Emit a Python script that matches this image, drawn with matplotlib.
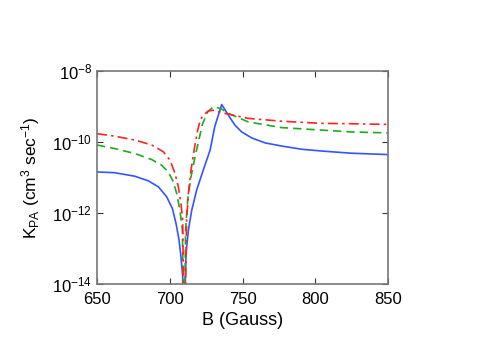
import numpy as np
import matplotlib
matplotlib.use("Agg")
import matplotlib.pyplot as plt

# values: B in Gauss, log10 of K_PA in cm^3/sec
b_blue = [650, 662, 676, 685.3, 692.2, 697.9, 701.8, 704.3, 706.4, 707.7, 708.9, 709.4,
          711.2, 712.8, 715.1, 718.5, 723, 727.7, 731, 733.4, 735.7, 740.3, 744.8, 749.4,
          756.3, 765.5, 777, 790.7, 804.5, 824, 850]
k_blue = [-10.84, -10.86, -10.96, -11.09, -11.26, -11.54, -11.87, -12.29, -12.76, -13.23, -13.79, -16.0,
          -13.14, -12.48, -11.92, -11.35, -10.79, -10.23, -9.55, -9.24, -8.94, -9.24, -9.52, -9.71,
          -9.88, -10.02, -10.11, -10.2, -10.25, -10.31, -10.35]

b_green = [650, 662, 676, 687.6, 694.4, 699, 702.5, 704.8, 707, 708.7, 709.8,
           710.9, 712.3, 714.6, 717.4, 720, 722.4, 726, 730, 735, 740.3, 754, 777, 804.5, 824, 850]
k_green = [-10.08, -10.18, -10.32, -10.49, -10.65, -10.84, -11.12, -11.45, -11.92, -12.48, -16.0,
           -12.48, -11.63, -10.98, -10.41, -9.94, -9.5, -9.15, -9.0, -9.05, -9.19, -9.43, -9.59, -9.66, -9.71, -9.74]

b_red = [650, 662, 676, 687.6, 695.6, 700.2, 703.6, 705.9, 707.7, 708.9, 710,
         711.6, 712.8, 714.6, 716.7, 719.2, 721, 723, 726.5, 729.8, 738, 754, 777, 804.5, 824, 850]
k_red = [-9.76, -9.83, -9.94, -10.08, -10.27, -10.51, -10.88, -11.26, -11.73, -12.2, -16.0,
         -12.2, -11.45, -10.79, -10.23, -9.66, -9.38, -9.24, -9.12, -9.1, -9.19, -9.33, -9.41, -9.47, -9.48, -9.5]

x_ticks = [650, 700, 750, 800, 850]
y_ticks = [1e-14, 1e-12, 1e-10, 1e-8]


def main():
    plt.rcParams['font.family'] = ['Liberation Sans', 'DejaVu Sans']
    plt.rcParams['mathtext.default'] = 'regular'

    fig = plt.figure(figsize=(4.85, 3.56), dpi=100)
    ax = fig.add_axes([0.2, 0.202, 0.6, 0.598])

    ax.plot(b_blue, 10 ** np.array(k_blue), color="#3355ff", lw=1.2)
    ax.plot(b_green, 10 ** np.array(k_green), "--", color="#1faa1f", lw=1.2, dashes=(5, 3))
    ax.plot(b_red, 10 ** np.array(k_red), "-.", color="#ff2222", lw=1.2, dashes=(6, 2.5, 1.5, 2.5))

    ax.set_yscale("log")
    ax.set_xlim(650, 850)
    ax.set_ylim(1e-14, 1e-8)
    ax.set_xticks(x_ticks)
    ax.set_yticks(y_ticks)
    ax.minorticks_off()
    ax.tick_params(direction="in", top=True, right=True, labelsize=12, length=4, color="#333333")
    ax.tick_params(axis="x", pad=6)
    for s in ax.spines.values():
        s.set_color("#777777")
        s.set_linewidth(1.2)

    ax.set_xlabel("B (Gauss)", fontsize=13, labelpad=3)
    ax.set_ylabel(r"K$_{PA}$ (cm$^3$ sec$^{-1}$)", fontsize=12.5, labelpad=7)

    fig.savefig("out.png", dpi=100)


if __name__ == "__main__":
    main()
